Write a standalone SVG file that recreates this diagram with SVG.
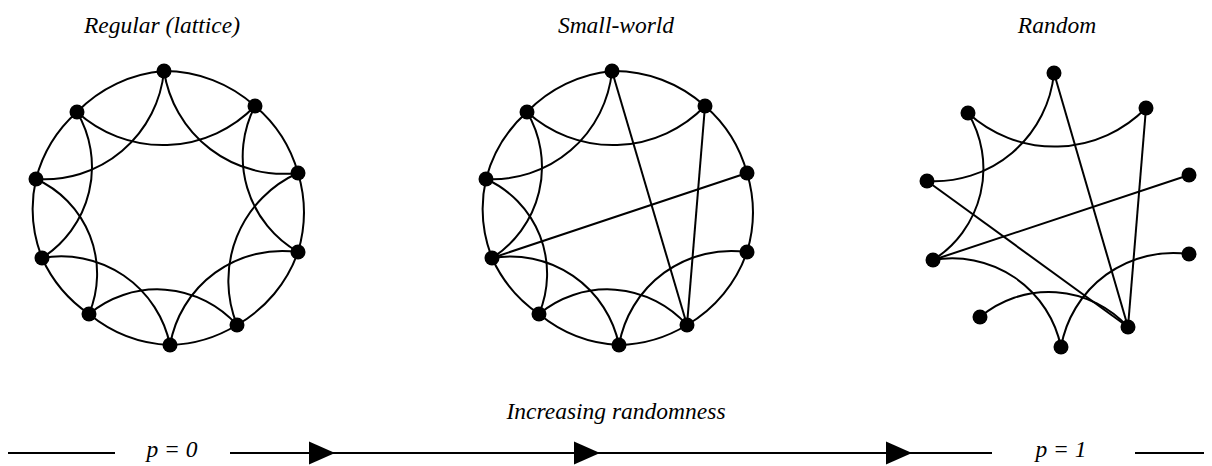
<svg xmlns="http://www.w3.org/2000/svg" xmlns:xlink="http://www.w3.org/1999/xlink" width="1212" height="466" viewBox="0 0 1212 466">
<defs>
<style>
.e{fill:none;stroke:#000;stroke-width:2}
.n{fill:#000}
.t{font-family:"Liberation Serif","Times New Roman",serif;font-style:italic;font-size:23.5px;fill:#000;text-anchor:middle}
</style>
<path id="ah" d="M0,-11.5 L26,0 L0,11.5 Z" fill="#000"/>
</defs>
<rect width="1212" height="466" fill="#fff"/>
<g id="titles">
<text class="t" x="162" y="33">Regular (lattice)</text>
<text class="t" x="616" y="33">Small-world</text>
<text class="t" x="1057" y="33">Random</text>
</g>
<g id="connectors">
<!-- Graph 1 ring -->
<path class="e" d="M164,71 A136,136 0 0 1 255,106"/>
<path class="e" d="M255,106 A136,136 0 0 1 298,173"/>
<path class="e" d="M298,173 A136,136 0 0 1 298,252"/>
<path class="e" d="M298,252 A136,136 0 0 1 237,325"/>
<path class="e" d="M237,325 A136,136 0 0 1 170,345"/>
<path class="e" d="M170,345 A136,136 0 0 1 89,314"/>
<path class="e" d="M89,314 A136,136 0 0 1 42,258"/>
<path class="e" d="M42,258 A136,136 0 0 1 36,179"/>
<path class="e" d="M36,179 A136,136 0 0 1 77,112"/>
<path class="e" d="M77,112 A136,136 0 0 1 164,71"/>
<!-- Graph 1 second neighbours -->
<path class="e" d="M164,71 A121,121 0 0 0 298,173"/>
<path class="e" d="M255,106 A110,110 0 0 0 298,252"/>
<path class="e" d="M298,173 A118,118 0 0 0 237,325"/>
<path class="e" d="M298,252 A114,114 0 0 0 170,345"/>
<path class="e" d="M237,325 A107,107 0 0 0 89,314"/>
<path class="e" d="M170,345 A111,111 0 0 0 42,258"/>
<path class="e" d="M89,314 A104,104 0 0 0 36,179"/>
<path class="e" d="M42,258 A108,108 0 0 0 77,112"/>
<path class="e" d="M36,179 A120,120 0 0 0 164,71"/>
<path class="e" d="M77,112 A128,128 0 0 0 255,106"/>
<!-- Graph 2 ring -->
<path class="e" d="M612,71 A136,136 0 0 1 705,106"/>
<path class="e" d="M705,106 A136,136 0 0 1 747,173"/>
<path class="e" d="M747,173 A136,136 0 0 1 747,252"/>
<path class="e" d="M747,252 A136,136 0 0 1 687,325"/>
<path class="e" d="M687,325 A136,136 0 0 1 619,345"/>
<path class="e" d="M619,345 A136,136 0 0 1 539,314"/>
<path class="e" d="M539,314 A136,136 0 0 1 492,258"/>
<path class="e" d="M492,258 A136,136 0 0 1 486,179"/>
<path class="e" d="M486,179 A136,136 0 0 1 527,112"/>
<path class="e" d="M527,112 A136,136 0 0 1 612,71"/>
<!-- Graph 2 second neighbours -->
<path class="e" d="M747,252 A114,114 0 0 0 619,345"/>
<path class="e" d="M687,325 A107,107 0 0 0 539,314"/>
<path class="e" d="M619,345 A111,111 0 0 0 492,258"/>
<path class="e" d="M539,314 A104,104 0 0 0 486,179"/>
<path class="e" d="M492,258 A108,108 0 0 0 527,112"/>
<path class="e" d="M486,179 A120,120 0 0 0 612,71"/>
<path class="e" d="M527,112 A128,128 0 0 0 705,106"/>
<!-- Graph 2 rewired -->
<path class="e" d="M612,71 L687,325"/>
<path class="e" d="M705,106 L687,325"/>
<path class="e" d="M747,173 L492,258"/>
<!-- Graph 3 -->
<path class="e" d="M1189,254 A114,114 0 0 0 1061,347"/>
<path class="e" d="M1128,327 A107,107 0 0 0 980,317"/>
<path class="e" d="M1061,347 A111,111 0 0 0 933,260"/>
<path class="e" d="M933,260 A108,108 0 0 0 968,113"/>
<path class="e" d="M927,181 A120,120 0 0 0 1054,73"/>
<path class="e" d="M968,113 A128,128 0 0 0 1146,108"/>
<path class="e" d="M1054,73 L1128,327"/>
<path class="e" d="M1146,108 L1128,327"/>
<path class="e" d="M1189,175 L933,260"/>
<path class="e" d="M927,181 L1128,327"/>
<!-- axis -->
<path class="e" d="M8,453 H115"/>
<path class="e" d="M230,453 H992"/>
<path class="e" d="M1135,453 H1204"/>
<use xlink:href="#ah" x="309" y="453"/>
<use xlink:href="#ah" x="574" y="453"/>
<use xlink:href="#ah" x="886" y="453"/>
</g>
<g id="g1-n0"><circle class="n" cx="164" cy="71" r="7.5"/></g>
<g id="g1-n1"><circle class="n" cx="255" cy="106" r="7.5"/></g>
<g id="g1-n2"><circle class="n" cx="298" cy="173" r="7.5"/></g>
<g id="g1-n3"><circle class="n" cx="298" cy="252" r="7.5"/></g>
<g id="g1-n4"><circle class="n" cx="237" cy="325" r="7.5"/></g>
<g id="g1-n5"><circle class="n" cx="170" cy="345" r="7.5"/></g>
<g id="g1-n6"><circle class="n" cx="89" cy="314" r="7.5"/></g>
<g id="g1-n7"><circle class="n" cx="42" cy="258" r="7.5"/></g>
<g id="g1-n8"><circle class="n" cx="36" cy="179" r="7.5"/></g>
<g id="g1-n9"><circle class="n" cx="77" cy="112" r="7.5"/></g>
<g id="g2-n0"><circle class="n" cx="612" cy="71" r="7.5"/></g>
<g id="g2-n1"><circle class="n" cx="705" cy="106" r="7.5"/></g>
<g id="g2-n2"><circle class="n" cx="747" cy="173" r="7.5"/></g>
<g id="g2-n3"><circle class="n" cx="747" cy="252" r="7.5"/></g>
<g id="g2-n4"><circle class="n" cx="687" cy="325" r="7.5"/></g>
<g id="g2-n5"><circle class="n" cx="619" cy="345" r="7.5"/></g>
<g id="g2-n6"><circle class="n" cx="539" cy="314" r="7.5"/></g>
<g id="g2-n7"><circle class="n" cx="492" cy="258" r="7.5"/></g>
<g id="g2-n8"><circle class="n" cx="486" cy="179" r="7.5"/></g>
<g id="g2-n9"><circle class="n" cx="527" cy="112" r="7.5"/></g>
<g id="g3-n0"><circle class="n" cx="1054" cy="73" r="7.5"/></g>
<g id="g3-n1"><circle class="n" cx="1146" cy="108" r="7.5"/></g>
<g id="g3-n2"><circle class="n" cx="1189" cy="175" r="7.5"/></g>
<g id="g3-n3"><circle class="n" cx="1189" cy="254" r="7.5"/></g>
<g id="g3-n4"><circle class="n" cx="1128" cy="327" r="7.5"/></g>
<g id="g3-n5"><circle class="n" cx="1061" cy="347" r="7.5"/></g>
<g id="g3-n6"><circle class="n" cx="980" cy="317" r="7.5"/></g>
<g id="g3-n7"><circle class="n" cx="933" cy="260" r="7.5"/></g>
<g id="g3-n8"><circle class="n" cx="927" cy="181" r="7.5"/></g>
<g id="g3-n9"><circle class="n" cx="968" cy="113" r="7.5"/></g>
<g id="labels">
<text class="t" x="616" y="419">Increasing randomness</text>
<text class="t" x="172" y="457">p = 0</text>
<text class="t" x="1061" y="457">p = 1</text>
</g>
</svg>
